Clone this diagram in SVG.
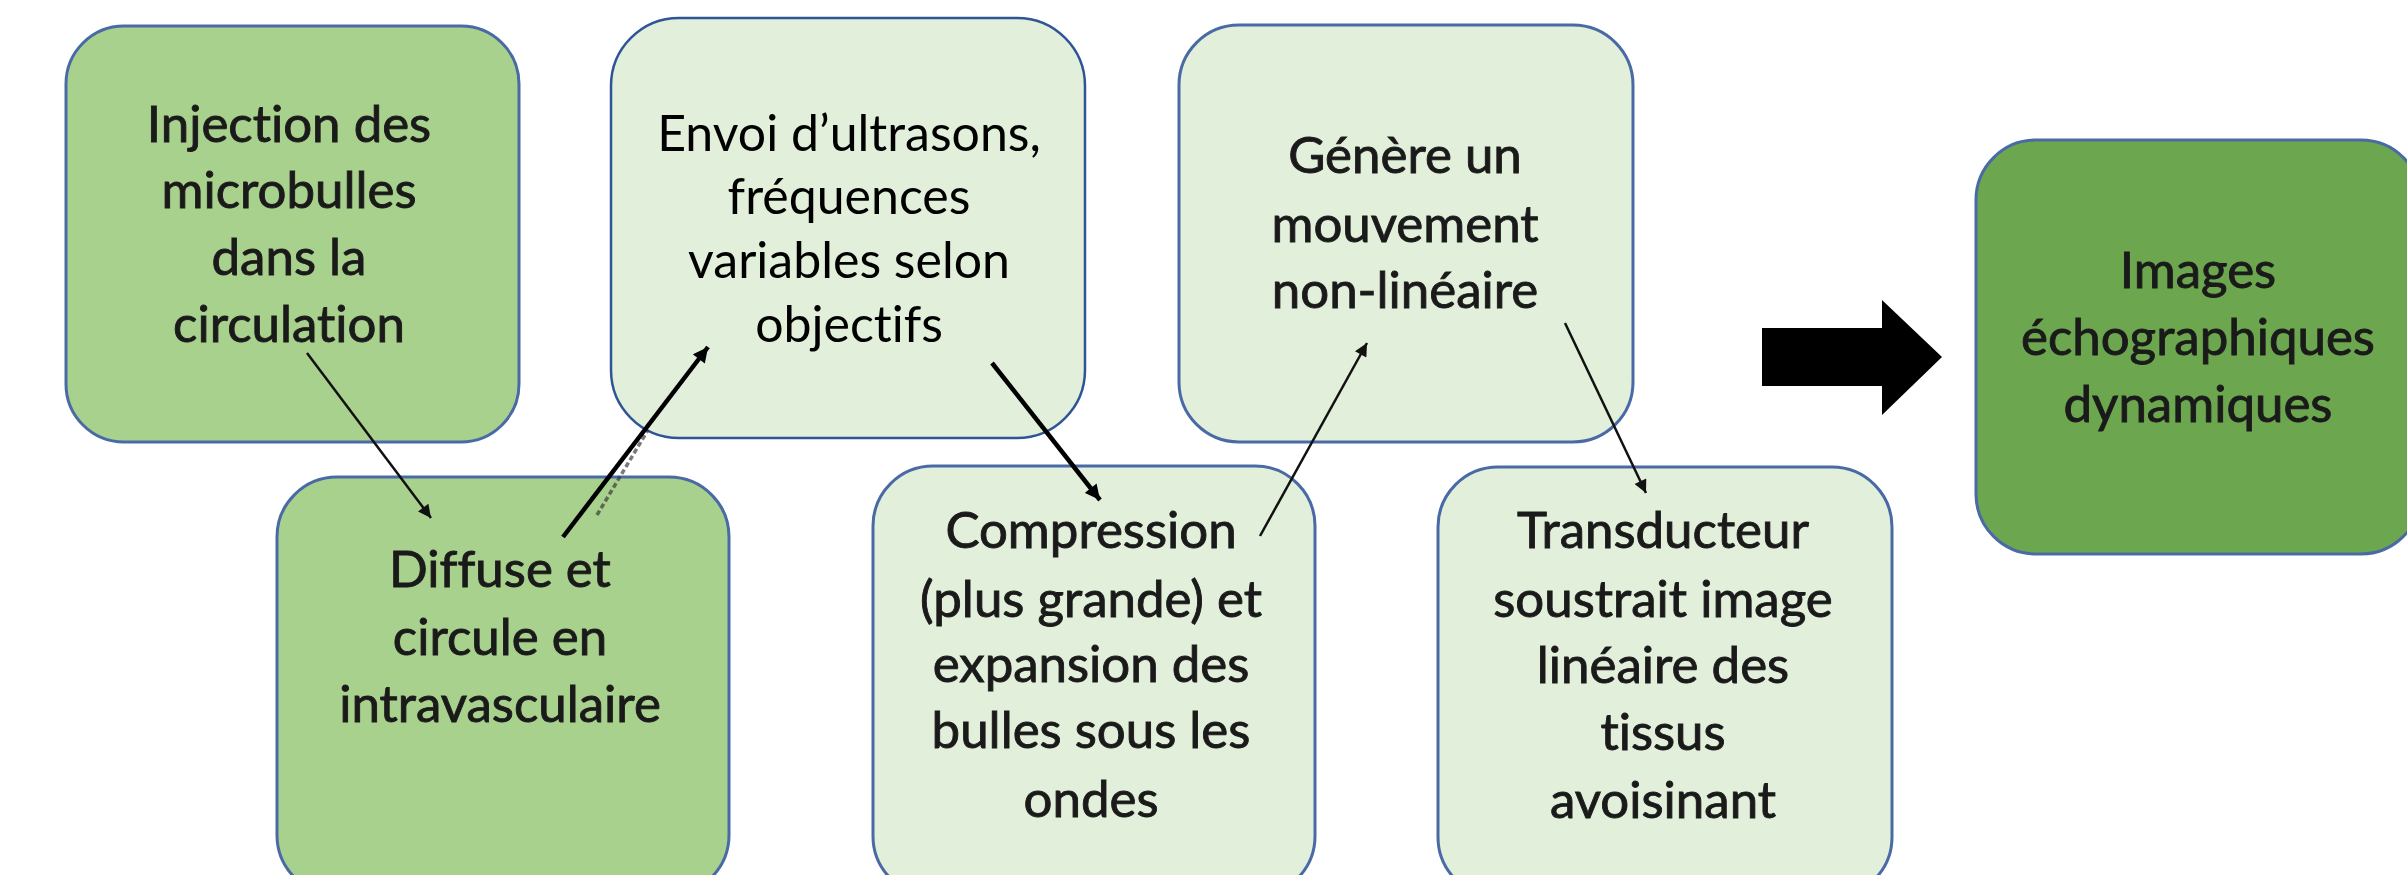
<svg xmlns="http://www.w3.org/2000/svg" width="2407" height="875" viewBox="0 0 2407 875">
<defs>
<style>
.box{stroke:#4a6aa5;stroke-width:3}
.g1{fill:#a9d18e}
.g2{fill:#e2efda}
.g3{fill:#6ca64e}
.t{font-family:Lato,"Liberation Sans",sans-serif;font-size:51px;fill:#1a1a1a;text-anchor:middle;font-variant-ligatures:none;font-feature-settings:"liga" 0,"clig" 0}
.b{stroke:#1a1a1a;stroke-width:0.9}
.thin{stroke:#111;stroke-width:2.5;fill:none}
.thick{stroke:#000;stroke-width:4.5;fill:none}
</style>
<marker id="ah" viewBox="0 0 10 10" refX="10" refY="5" markerWidth="15" markerHeight="13" markerUnits="userSpaceOnUse" orient="auto"><path d="M0,0L10,5L0,10z" fill="#111"/></marker>
<marker id="ahb" viewBox="0 0 10 10" refX="10" refY="5" markerWidth="17" markerHeight="15" markerUnits="userSpaceOnUse" orient="auto"><path d="M0,0L10,5L0,10z" fill="#000"/></marker>
</defs>
<rect width="2407" height="875" fill="#fff"/>
<g id="n1"><rect class="box g1" x="66" y="26" width="453" height="416" rx="58"/>
<text class="t b"><tspan x="289" y="142">Injection des</tspan><tspan x="289" y="208">microbulles</tspan><tspan x="289" y="275">dans la</tspan><tspan x="289" y="342">circulation</tspan></text></g>
<g id="n2"><rect class="g2" x="611" y="18" width="474" height="420" rx="68" stroke="#2f5597" stroke-width="2.5"/>
<text class="t" style="fill:#000;font-size:50px"><tspan x="849" y="151">Envoi d’ultrasons,</tspan><tspan x="849" y="214">fréquences</tspan><tspan x="849" y="278">variables selon</tspan><tspan x="849" y="342">objectifs</tspan></text></g>
<g id="n3"><rect class="box g2" x="1179" y="25" width="454" height="417" rx="60"/>
<text class="t b"><tspan x="1405" y="173">Génère un</tspan><tspan x="1405" y="242">mouvement</tspan><tspan x="1405" y="308">non-linéaire</tspan></text></g>
<g id="n4"><rect class="box g1" x="277" y="477" width="452" height="418" rx="60"/>
<text class="t b"><tspan x="500" y="587">Diffuse et</tspan><tspan x="500" y="655">circule en</tspan><tspan x="500" y="722">intravasculaire</tspan></text></g>
<g id="n5"><rect class="box g2" x="873" y="466" width="442" height="430" rx="60"/>
<text class="t b"><tspan x="1091" y="548">Compression</tspan><tspan x="1091" y="617">(plus grande) et</tspan><tspan x="1091" y="682">expansion des</tspan><tspan x="1091" y="748">bulles sous les</tspan><tspan x="1091" y="817">ondes</tspan></text></g>
<g id="n6"><rect class="box g2" x="1438" y="467" width="454" height="430" rx="60"/>
<text class="t b"><tspan x="1663" y="548">Transducteur</tspan><tspan x="1663" y="617">soustrait image</tspan><tspan x="1663" y="683">linéaire des</tspan><tspan x="1663" y="750">tissus</tspan><tspan x="1663" y="818">avoisinant</tspan></text></g>
<g id="n7"><rect class="box g3" x="1976" y="140" width="445" height="414" rx="60"/>
<text class="t b"><tspan x="2198" y="288">Images</tspan><tspan x="2198" y="355">échographiques</tspan><tspan x="2198" y="422">dynamiques</tspan></text></g>
<g id="big-arrow"><polygon points="1762,328 1882,328 1882,300 1942,357 1882,415 1882,386 1762,386" fill="#000"/></g>
<g id="connectors">
<line class="thin" x1="307" y1="353" x2="431" y2="518" marker-end="url(#ah)"/>
<line x1="597" y1="515" x2="648" y2="430" stroke="#333" stroke-width="3.5" stroke-dasharray="5 3" opacity="0.65"/>
<line class="thick" x1="563" y1="537" x2="708" y2="347" marker-end="url(#ahb)"/>
<line class="thick" x1="992" y1="363" x2="1100" y2="500" marker-end="url(#ahb)"/>
<line class="thin" x1="1260" y1="536" x2="1367" y2="343" marker-end="url(#ah)"/>
<line class="thin" x1="1565" y1="323" x2="1646" y2="493" marker-end="url(#ah)"/>
</g>
</svg>
